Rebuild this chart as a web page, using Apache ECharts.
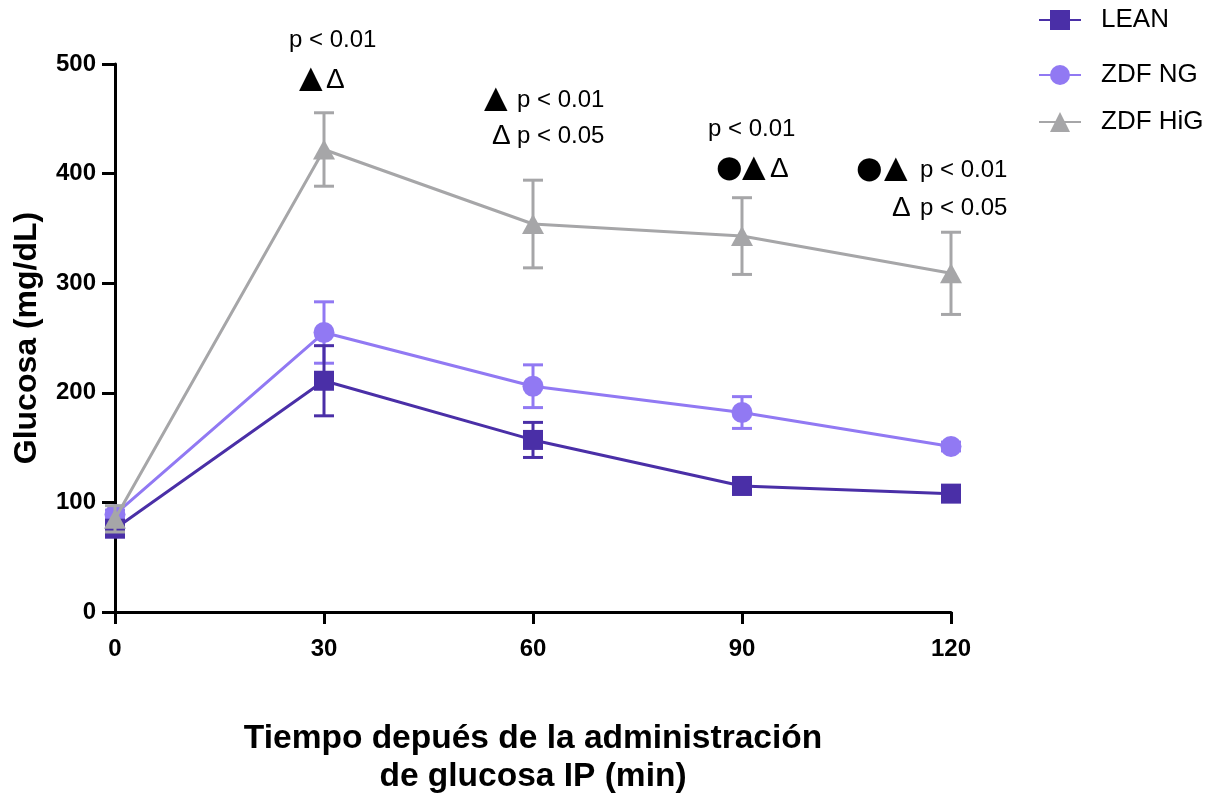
<!DOCTYPE html>
<html>
<head>
<meta charset="utf-8">
<script src="https://cdn.jsdelivr.net/npm/echarts@6/dist/echarts.min.js"></script>
<style>
html,body{margin:0;padding:0;background:#fff;overflow:hidden;}
#chart{width:1212px;height:801px;}
</style>
</head>
<body>
<div id="chart"></div>
<script>
// ---- data ----
const times = [0, 30, 60, 90, 120];
const xTicks = [0, 30, 60, 90, 120];
const yTicks = [0, 100, 200, 300, 400, 500];
const leanMean = [76, 211, 157, 115, 108];
const leanSem  = [4, 32, 16, 5, 4];
const ngMean   = [89, 255, 206, 182, 151];
const ngSem    = [4, 28, 19.5, 14.5, 4];
const higMean  = [85, 422, 354, 343, 309];
const higSem   = [12, 33.5, 40, 35, 37.5];
const seriesNames = ['LEAN', 'ZDF NG', 'ZDF HiG'];
const xTitle = 'Tiempo depués de la administración\nde glucosa IP (min)';
const yTitle = 'Glucosa (mg/dL)';

const C_LEAN = '#4a2fa7';
const C_NG = '#9179f3';
const C_HIG = '#a6a6a8';
const FONT = '"Liberation Sans", Arial, sans-serif';

function pts(mean) { return times.map((t, i) => [t, mean[i]]); }
function errs(mean, sem) { return times.map((t, i) => [t, mean[i] - sem[i], mean[i] + sem[i]]); }
function errRender(color) {
  return function (params, api) {
    const x = api.value(0), lo = api.value(1), hi = api.value(2);
    const a = api.coord([x, hi]);
    const b = api.coord([x, lo]);
    const w = 10;
    const st = { stroke: color, lineWidth: 3 };
    return {
      type: 'group',
      children: [
        { type: 'line', shape: { x1: a[0], y1: a[1], x2: b[0], y2: b[1] }, style: st },
        { type: 'line', shape: { x1: a[0] - w, y1: a[1], x2: a[0] + w, y2: a[1] }, style: st },
        { type: 'line', shape: { x1: b[0] - w, y1: b[1], x2: b[0] + w, y2: b[1] }, style: st }
      ]
    };
  };
}

const chart = echarts.init(document.getElementById('chart'), null, { renderer: 'canvas', width: 1212, height: 801 });

const legendBase = {
  orient: 'vertical', left: 1033, itemWidth: 42, itemHeight: 25,
  textStyle: { fontFamily: FONT, fontSize: 26, color: '#000', padding: [0, 0, 0, 15] },
  selectedMode: false
};

const option = {
  animation: false,
  backgroundColor: '#fff',
  grid: { left: 115, width: 836, top: 64, height: 556, containLabel: false },
  legend: [
    Object.assign({}, legendBase, { data: [seriesNames[0]], top: 2 }),
    Object.assign({}, legendBase, { data: [seriesNames[1]], top: 57 }),
    Object.assign({}, legendBase, { data: [seriesNames[2]], top: 104 })
  ],
  xAxis: {
    type: 'value', min: 0, max: 120, interval: 30,
    name: xTitle, nameLocation: 'middle', nameGap: 108,
    nameTextStyle: { fontFamily: FONT, fontSize: 33.5, fontWeight: 'bold', color: '#000', lineHeight: 38 },
    axisLine: { show: true, onZero: false, lineStyle: { color: '#000', width: 3 } },
    axisTick: { show: true, length: 12, lineStyle: { color: '#000', width: 3 } },
    axisLabel: { fontFamily: FONT, fontSize: 24, fontWeight: 'bold', color: '#000', margin: 25,
      formatter: v => xTicks.includes(v) ? String(v) : '' },
    splitLine: { show: false }
  },
  yAxis: {
    type: 'value', min: 0, max: 500, interval: 100,
    name: yTitle, nameLocation: 'middle', nameGap: 72,
    nameTextStyle: { fontFamily: FONT, fontSize: 32, fontWeight: 'bold', color: '#000' },
    axisLine: { show: true, onZero: false, lineStyle: { color: '#000', width: 3 } },
    axisTick: { show: true, length: 13, lineStyle: { color: '#000', width: 3 } },
    axisLabel: { fontFamily: FONT, fontSize: 24, fontWeight: 'bold', color: '#000', margin: 19,
      formatter: v => yTicks.includes(v) ? String(v) : '' },
    splitLine: { show: false }
  },
  series: [
    { type: 'custom', name: 'ngErr', data: errs(ngMean, ngSem), renderItem: errRender(C_NG), z: 2, silent: true },
    { type: 'line', name: seriesNames[1], data: pts(ngMean), symbol: 'circle', symbolSize: 21,
      itemStyle: { color: C_NG }, lineStyle: { color: C_NG, width: 3 }, z: 3 },
    { type: 'custom', name: 'leanErr', data: errs(leanMean, leanSem), renderItem: errRender(C_LEAN), z: 4, silent: true },
    { type: 'line', name: seriesNames[0], data: pts(leanMean), symbol: 'rect', symbolSize: 20,
      itemStyle: { color: C_LEAN }, lineStyle: { color: C_LEAN, width: 3 }, z: 5 },
    { type: 'custom', name: 'higErr', data: errs(higMean, higSem), renderItem: errRender(C_HIG), z: 6, silent: true },
    { type: 'line', name: seriesNames[2], data: pts(higMean), symbol: 'triangle', symbolSize: [22, 20],
      itemStyle: { color: C_HIG }, lineStyle: { color: C_HIG, width: 3 }, z: 7 }
  ]
};
chart.setOption(option);

// significance annotations (symbols and p-value text)
const annotations = [
  { x: 289, y: 40, text: 'p < 0.01', size: 24 },
  { x: 291, y: 80, text: '▲', size: 40 },
  { x: 326, y: 80, text: 'Δ', size: 28 },
  { x: 476, y: 100, text: '▲', size: 40 },
  { x: 517, y: 100, text: 'p < 0.01', size: 24 },
  { x: 492, y: 136, text: 'Δ', size: 28 },
  { x: 517, y: 136, text: 'p < 0.05', size: 24 },
  { x: 708, y: 129, text: 'p < 0.01', size: 24 },
  { x: 713, y: 169, text: '●', size: 54 },
  { x: 734, y: 169, text: '▲', size: 40 },
  { x: 770, y: 169, text: 'Δ', size: 28 },
  { x: 853, y: 170, text: '●', size: 54 },
  { x: 876, y: 170, text: '▲', size: 40 },
  { x: 920, y: 170, text: 'p < 0.01', size: 24 },
  { x: 892, y: 208, text: 'Δ', size: 28 },
  { x: 920, y: 208, text: 'p < 0.05', size: 24 }
];
chart.setOption({
  graphic: annotations.map(a => ({
    type: 'text', left: a.x, top: a.y - a.size / 2, silent: true,
    style: { text: a.text, fontFamily: FONT, fontSize: a.size, fill: '#000', lineHeight: a.size }
  }))
});
</script>
</body>
</html>
